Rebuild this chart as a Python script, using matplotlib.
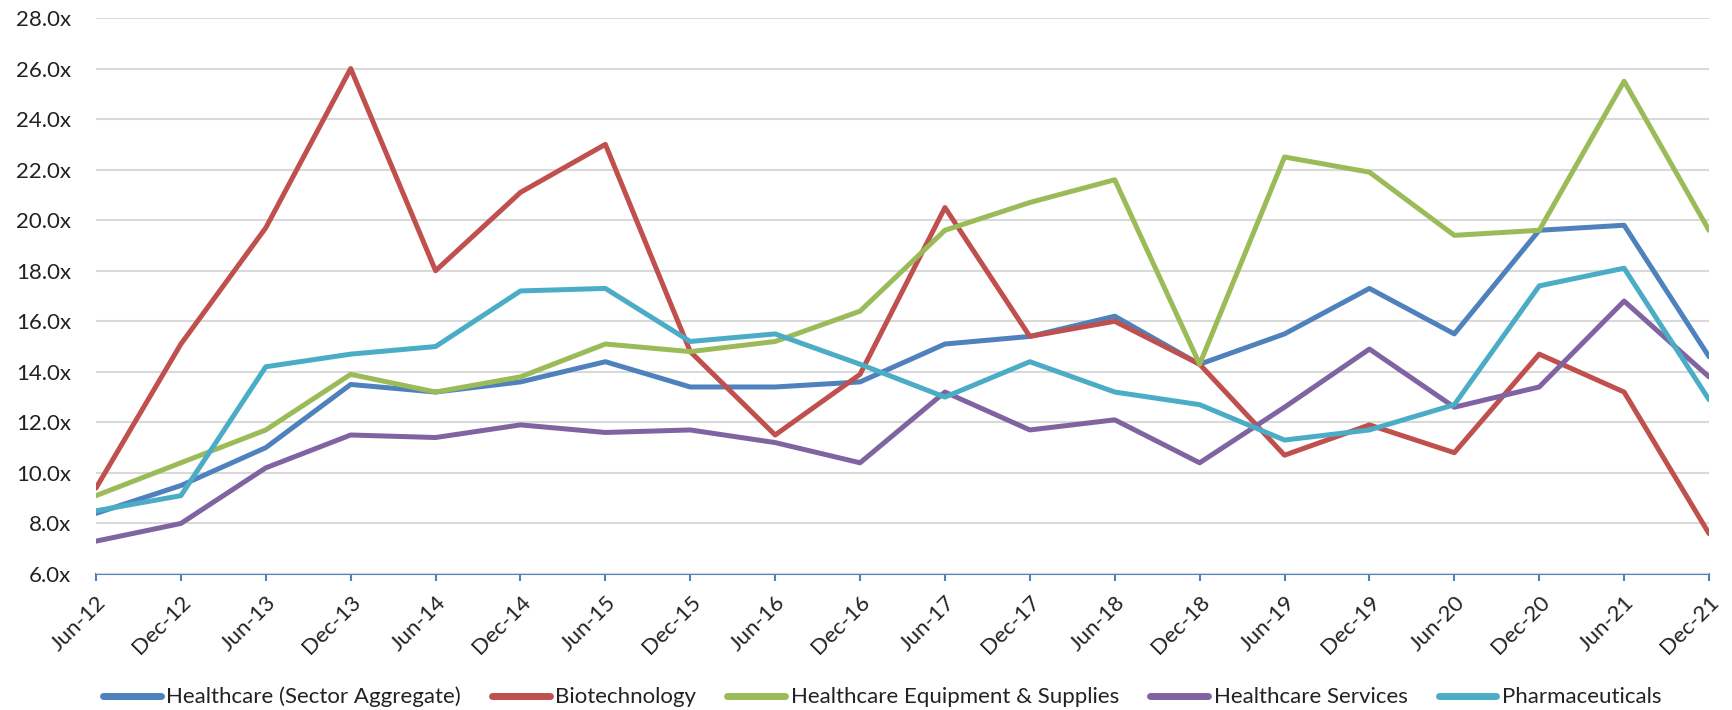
import matplotlib
matplotlib.use("Agg")
import matplotlib.pyplot as plt
from matplotlib.ticker import FuncFormatter

plt.rcParams["font.family"] = ["Lato", "DejaVu Sans"]

dates = ["Jun-12", "Dec-12", "Jun-13", "Dec-13", "Jun-14", "Dec-14", "Jun-15", "Dec-15",
         "Jun-16", "Dec-16", "Jun-17", "Dec-17", "Jun-18", "Dec-18", "Jun-19", "Dec-19",
         "Jun-20", "Dec-20", "Jun-21", "Dec-21"]

healthcare = [8.4, 9.5, 11.0, 13.5, 13.2, 13.6, 14.4, 13.4, 13.4, 13.6,
              15.1, 15.4, 16.2, 14.3, 15.5, 17.3, 15.5, 19.6, 19.8, 14.6]
biotech = [9.4, 15.1, 19.7, 26.0, 18.0, 21.1, 23.0, 14.8, 11.5, 13.9,
           20.5, 15.4, 16.0, 14.3, 10.7, 11.9, 10.8, 14.7, 13.2, 7.6]
equipment = [9.1, 10.4, 11.7, 13.9, 13.2, 13.8, 15.1, 14.8, 15.2, 16.4,
             19.6, 20.7, 21.6, 14.3, 22.5, 21.9, 19.4, 19.6, 25.5, 19.6]
services = [7.3, 8.0, 10.2, 11.5, 11.4, 11.9, 11.6, 11.7, 11.2, 10.4,
            13.2, 11.7, 12.1, 10.4, 12.6, 14.9, 12.6, 13.4, 16.8, 13.8]
pharma = [8.5, 9.1, 14.2, 14.7, 15.0, 17.2, 17.3, 15.2, 15.5, 14.3,
          13.0, 14.4, 13.2, 12.7, 11.3, 11.7, 12.7, 17.4, 18.1, 12.9]

series = [
    ("Healthcare (Sector Aggregate)", healthcare, "#4F81BD"),
    ("Biotechnology", biotech, "#C0504D"),
    ("Healthcare Equipment & Supplies", equipment, "#9BBB59"),
    ("Healthcare Services", services, "#8064A2"),
    ("Pharmaceuticals", pharma, "#4BACC6"),
]

fig = plt.figure(figsize=(17.33, 7.10), dpi=100)
ax = fig.add_axes([96 / 1733, 1 - 574 / 710, (1709 - 96) / 1733, (574 - 18) / 710])

x = list(range(len(dates)))
for name, vals, col in series:
    ax.plot(x, vals, color=col, lw=3.6, label=name,
            solid_joinstyle="round", solid_capstyle="round")

ax.set_xlim(0, len(dates) - 1)
ax.set_ylim(6, 28)
ax.set_yticks(range(6, 29, 2))
ax.yaxis.set_major_formatter(FuncFormatter(lambda v, p: f"{v:.1f}x"))
ax.grid(axis="y", color="#D9D9D9", lw=1.5)
ax.set_axisbelow(True)

for s in ["top", "right", "left"]:
    ax.spines[s].set_visible(False)
ax.spines["bottom"].set_color("#4F81BD")
ax.spines["bottom"].set_linewidth(1.5)
ax.spines["bottom"].set_zorder(0.5)

ax.set_xticks(x)
ax.set_xticklabels(dates, rotation=45, ha="right", rotation_mode="anchor")
ax.tick_params(axis="x", color="#4F81BD", width=1.5, length=5, labelsize=16,
               pad=8, labelcolor="#222222")
ax.tick_params(axis="y", length=0, labelsize=16, pad=18, labelcolor="#222222")

leg = fig.legend(loc="center", ncol=5, bbox_to_anchor=(0.509, 13 / 710), frameon=False,
                 fontsize=16, handlelength=2.6, handletextpad=0.25, columnspacing=1.4,
                 borderpad=0)
for t in leg.get_texts():
    t.set_color("#222222")
for h in leg.get_lines():
    h.set_linewidth(5)
    h.set_solid_capstyle("round")

fig.savefig("out.png", dpi=100)
